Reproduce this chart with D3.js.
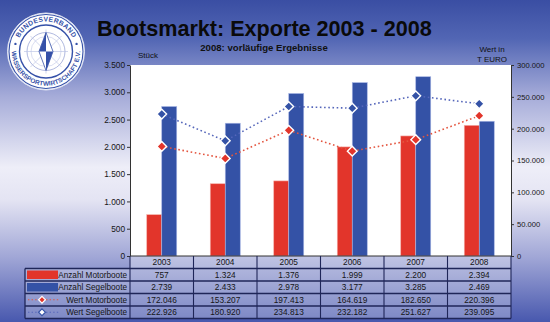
<!DOCTYPE html>
<html><head><meta charset="utf-8">
<script src="https://cdn.jsdelivr.net/npm/d3@7"></script>
<style>
html,body{margin:0;padding:0;overflow:hidden;background:#fff}
svg text{font-family:"Liberation Sans",Arial,sans-serif}
</style></head>
<body><svg id="c" width="550" height="322"></svg>
<script>
const years = ["2003","2004","2005","2006","2007","2008"];
const motorCount = [757,1324,1376,1999,2200,2394];
const sailCount = [2739,2433,2978,3177,3285,2469];
const motorValue = [172046,153207,197413,164619,182650,220396];
const sailValue = [222926,180920,234813,232182,251627,239095];
const leftTicks = [0,500,1000,1500,2000,2500,3000,3500];
const rightTicks = [0,50000,100000,150000,200000,250000,300000];
const seriesNames = ["Anzahl Motorboote","Anzahl Segelboote","Wert Motorboote","Wert Segelboote"];
const titleText = "Bootsmarkt: Exporte 2003 - 2008";
const subtitleText = "2008: vorläufige Ergebnisse";

const RED = "#e2352b", BLUE = "#3452a6", REDL = "#e4553f", BLUEL = "#5566ba", LINE = "#1f2658";
const loc = d3.formatLocale({decimal:",", thousands:".", grouping:[3], currency:["","€"]});
const fmt = loc.format(",d");

const svg = d3.select("#c");
const defs = svg.append("defs");
const g = defs.append("linearGradient").attr("id","bg").attr("x1",0).attr("y1",0).attr("x2",0).attr("y2",1);
[[0,"#3a4ea3"],[0.12,"#5266b4"],[0.3,"#a6acd9"],[0.52,"#eeeef8"],[0.62,"#e4e4f3"],[0.8,"#a0a6d6"],[1,"#4858ae"]]
  .forEach(([o,c])=>g.append("stop").attr("offset",o).attr("stop-color",c));
svg.append("rect").attr("width",550).attr("height",322).attr("fill","url(#bg)");

// scales
const x = d3.scaleBand().domain(years).range([130,511]);
const yL = d3.scaleLinear().domain([0,3500]).range([256,65]);
const yR = d3.scaleLinear().domain([0,300000]).range([256,65]);
const barW = 15;

// plot area
svg.append("rect").attr("x",x.range()[0]).attr("y",yL(3500)).attr("width",x.range()[1]-x.range()[0])
  .attr("height",yL(0)-yL(3500)).attr("fill","#fff");

// bars
const cx = d => x(d)+x.bandwidth()/2;
svg.append("g").selectAll("rect").data(years).join("rect")
  .attr("x",d=>cx(d)-barW).attr("width",barW)
  .attr("y",(d,i)=>yL(motorCount[i])).attr("height",(d,i)=>yL(0)-yL(motorCount[i]))
  .attr("fill",RED).attr("stroke","#f4b0a8").attr("stroke-width",0.6);
svg.append("g").selectAll("rect").data(years).join("rect")
  .attr("x",d=>cx(d)).attr("width",barW)
  .attr("y",(d,i)=>yL(sailCount[i])).attr("height",(d,i)=>yL(0)-yL(sailCount[i]))
  .attr("fill",BLUE).attr("stroke","#a8b6e4").attr("stroke-width",0.6);

// lines
function drawLine(vals,col){
  const line = d3.line().x((v,i)=>cx(years[i])).y(v=>yR(v));
  svg.append("path").datum(vals).attr("d",line).attr("fill","none").attr("stroke",col)
    .attr("stroke-width",1.6).attr("stroke-dasharray","1.6,2.6");
}
drawLine(motorValue,REDL);
drawLine(sailValue,BLUEL);
const diamond = d3.symbol().type(d3.symbolDiamond2).size(60);
function drawMarkers(vals,col){
  svg.append("g").selectAll("path").data(vals).join("path")
    .attr("d",diamond).attr("transform",(v,i)=>`translate(${cx(years[i])},${yR(v)})`)
    .attr("fill",col).attr("stroke","#fff").attr("stroke-width",1.4);
}
drawMarkers(motorValue,RED);
drawMarkers(sailValue,BLUE);

// axes
const axL = svg.append("g").attr("transform","translate(130,0)")
  .call(d3.axisLeft(yL).tickValues(leftTicks).tickSize(3).tickSizeOuter(0).tickPadding(2).tickFormat(fmt));
const axR = svg.append("g").attr("transform","translate(511,0)")
  .call(d3.axisRight(yR).tickValues(rightTicks).tickSize(3).tickSizeOuter(0).tickPadding(3).tickFormat(fmt));
[axL,axR].forEach(a=>{
  a.select(".domain").attr("stroke","#333").attr("stroke-width",1);
  a.selectAll(".tick line").attr("stroke","#333");
  a.selectAll("text").attr("font-family","Liberation Sans, Arial, sans-serif").attr("fill","#151515");
});
axL.selectAll("text").attr("font-size","8.3px");
axR.selectAll("text").attr("font-size","7.6px");

// table
const rows = ["year"].concat(seriesNames);
const ry = d3.scaleBand().domain(rows).range([256,318.5]);
const tbl = svg.append("g");
tbl.append("rect").attr("x",130).attr("y",ry("year")).attr("width",381).attr("height",ry.bandwidth())
  .attr("fill","rgba(255,255,255,0.32)");
tbl.append("rect").attr("x",25).attr("y",ry(seriesNames[0])).attr("width",486).attr("height",ry.bandwidth()*4)
  .attr("fill","rgba(255,255,255,0.28)");
rows.forEach((r,i)=>{
  if(i===0) return;
  tbl.append("line").attr("x1",25).attr("x2",511).attr("y1",ry(r)).attr("y2",ry(r))
    .attr("stroke",LINE).attr("stroke-width",1.3);
});
tbl.append("line").attr("x1",25).attr("x2",511).attr("y1",318.5).attr("y2",318.5).attr("stroke",LINE).attr("stroke-width",1.3);
tbl.append("line").attr("x1",130).attr("x2",511).attr("y1",256).attr("y2",256).attr("stroke","#333").attr("stroke-width",1);
tbl.append("line").attr("x1",25).attr("x2",25).attr("y1",ry(seriesNames[0])).attr("y2",318.5).attr("stroke",LINE).attr("stroke-width",1.3);
years.concat(["end"]).forEach(yv=>{
  const xx = yv==="end" ? 511 : x(yv);
  tbl.append("line").attr("x1",xx).attr("x2",xx).attr("y1",256).attr("y2",318.5).attr("stroke",LINE).attr("stroke-width",1.1);
});
const ty = r => ry(r)+ry.bandwidth()/2+3;
tbl.selectAll("text.yr").data(years).join("text").attr("class","yr")
  .attr("x",d=>cx(d)).attr("y",ty("year")).attr("text-anchor","middle").attr("font-size","8.3px").attr("fill","#151515").text(d=>d);
const tableVals = [motorCount,sailCount,motorValue,sailValue];
tableVals.forEach((vals,k)=>{
  tbl.append("g").selectAll("text").data(vals).join("text")
    .attr("x",(v,i)=>cx(years[i])).attr("y",ty(seriesNames[k])).attr("text-anchor","middle")
    .attr("font-size","8.3px").attr("fill","#151515").text(v=>fmt(v));
  tbl.append("text").attr("x",127).attr("y",ty(seriesNames[k])).attr("text-anchor","end")
    .attr("font-size","8.2px").attr("fill","#151515").text(seriesNames[k]);
});
tbl.append("rect").attr("x",27).attr("y",ry(seriesNames[0])+2).attr("width",31).attr("height",ry.bandwidth()-4).attr("fill",RED);
tbl.append("rect").attr("x",27).attr("y",ry(seriesNames[1])+2).attr("width",31).attr("height",ry.bandwidth()-4).attr("fill",BLUE);
[[seriesNames[2],REDL,RED],[seriesNames[3],BLUEL,BLUE]].forEach(([n,lc,mc],k)=>{
  const yy = ry(n)+ry.bandwidth()/2;
  tbl.append("line").attr("x1",28).attr("x2",60).attr("y1",yy).attr("y2",yy).attr("stroke",lc)
    .attr("stroke-width",1.2).attr("stroke-dasharray","1.4,2.2");
  tbl.append("path").attr("d",d3.symbol().type(d3.symbolDiamond2).size(30)).attr("transform",`translate(42,${yy})`)
    .attr("fill",k===0?mc:"#fff").attr("stroke",k===0?"#fff":mc).attr("stroke-width",k===0?1.2:1.1);
});

// titles
svg.append("text").attr("x",97).attr("y",36).attr("font-size","21.6px").attr("font-weight","bold").attr("fill","#0a0a0a").text(titleText);
svg.append("text").attr("x",264).attr("y",50.5).attr("text-anchor","middle").attr("font-size","9.6px").attr("font-weight","bold").attr("fill","#111").text(subtitleText);
svg.append("text").attr("x",138).attr("y",58).attr("font-size","8px").attr("fill","#111").text("Stück");
svg.append("text").attr("x",492).attr("y",52).attr("text-anchor","middle").attr("font-size","8px").attr("fill","#111").text("Wert in");
svg.append("text").attr("x",492).attr("y",62).attr("text-anchor","middle").attr("font-size","8px").attr("fill","#111").text("T EURO");

// logo
const L = svg.append("g").attr("transform","translate(46,51.5)");
const LB = "#3551a8";
L.append("circle").attr("r",38.5).attr("fill","#fff").attr("stroke","#dfe3f3").attr("stroke-width",1);
L.append("circle").attr("r",37).attr("fill","none").attr("stroke",LB).attr("stroke-width",1.1);
L.append("circle").attr("r",26.5).attr("fill","#fff").attr("stroke",LB).attr("stroke-width",1.4);
L.append("circle").attr("r",19).attr("fill","none").attr("stroke","#8c9ad0").attr("stroke-width",0.7);
L.append("circle").attr("r",15).attr("fill","none").attr("stroke","#b4bde2").attr("stroke-width",0.5);
[0,45,90,135].forEach(a=>{
  const r=a*Math.PI/180;
  L.append("line").attr("x1",-22*Math.cos(r)).attr("y1",-22*Math.sin(r)).attr("x2",22*Math.cos(r)).attr("y2",22*Math.sin(r))
    .attr("stroke","#b4bde2").attr("stroke-width",0.6);
});
L.append("path").attr("d","M0,-19 L-7,0 L0,19 L7,0 Z").attr("fill","#fff").attr("stroke",LB).attr("stroke-width",0.8);
L.append("path").attr("d","M0,-19 L-7,0 L0,0 Z").attr("fill",LB);
L.append("path").attr("d","M0,0 L7,0 L0,19 Z").attr("fill",LB);
defs.append("path").attr("id","arcTop").attr("d","M-30,0 A30,30 0 0 1 30,0");
const a0 = 0.08;
defs.append("path").attr("id","arcBot").attr("d",`M${-34.2*Math.cos(a0)},${-34.2*Math.sin(a0)} A34.2,34.2 0 1 0 ${34.2*Math.cos(a0)},${-34.2*Math.sin(a0)}`);
L.append("text").attr("font-size","6.8px").attr("font-weight","bold").attr("fill",LB)
  .append("textPath").attr("href","#arcTop").attr("startOffset","50%").attr("text-anchor","middle")
  .attr("textLength",66).attr("lengthAdjust","spacing").text("BUNDESVERBAND");
L.append("text").attr("font-size","6.4px").attr("font-weight","bold").attr("fill",LB)
  .append("textPath").attr("href","#arcBot").attr("startOffset","50%").attr("text-anchor","middle")
  .attr("textLength",108).attr("lengthAdjust","spacing").text("WASSERSPORTWIRTSCHAFT E.V.");
[-1,1].forEach(s=>{
  const ang = 76*Math.PI/180;
  L.append("circle").attr("cx",s*31.5*Math.sin(ang)).attr("cy",-31.5*Math.cos(ang)).attr("r",1.2).attr("fill",LB);
});
</script></body></html>
